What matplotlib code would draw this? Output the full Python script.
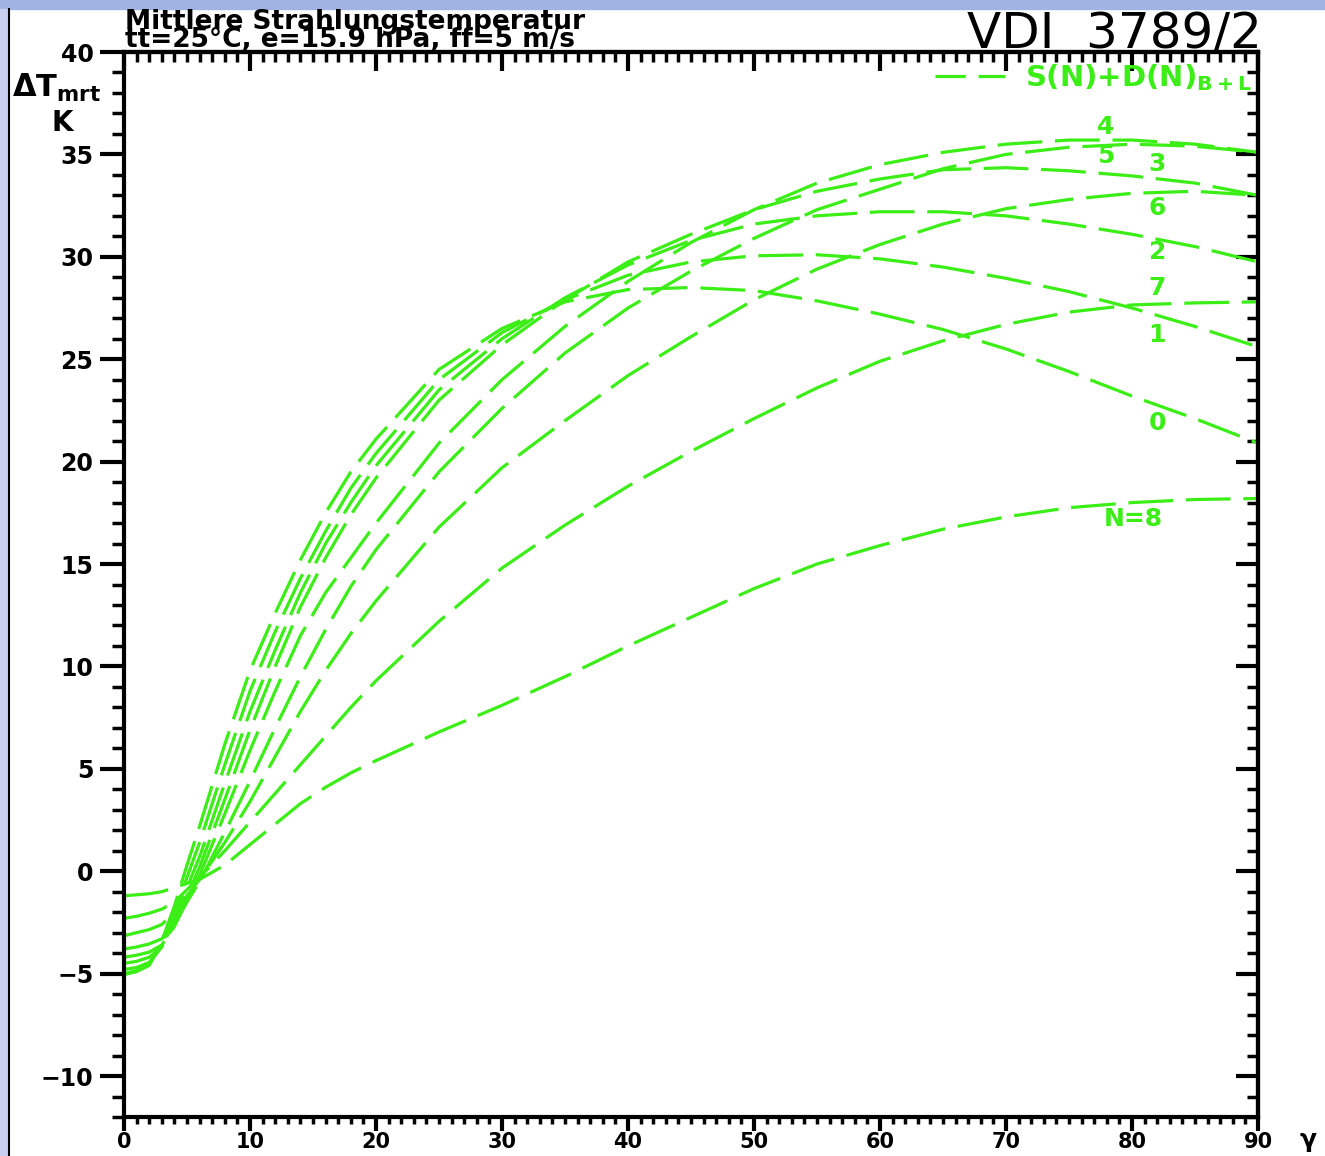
import matplotlib.pyplot as plt
from matplotlib.lines import Line2D
from matplotlib.patches import Rectangle
from matplotlib.ticker import MultipleLocator

GREEN = "#3aee16"

# ====== data ======
elev = [0, 1, 2, 3, 4, 5, 6, 8, 10, 12, 14, 16, 18, 20, 25, 30, 35, 40, 45,
        50, 55, 60, 65, 70, 75, 80, 85, 90]

dt_n0 = [-5.05, -4.9, -4.6, -3.4, -1.7, 0.3, 2.2, 6.2, 9.8, 12.6, 15.2, 17.5, 19.5, 21.1,
         24.5, 26.5, 27.8, 28.4, 28.5, 28.35, 27.85, 27.2, 26.45, 25.5, 24.4, 23.2, 22.1, 20.9]
dt_n1 = [-5.0, -4.85, -4.55, -3.6, -2.1, -0.3, 1.4, 5.2, 8.8, 11.7, 14.3, 16.6, 18.7, 20.4,
         24.0, 26.3, 27.9, 29.1, 29.75, 30.05, 30.1, 29.9, 29.5, 28.95, 28.3, 27.5, 26.6, 25.6]
dt_n2 = [-4.8, -4.7, -4.45, -3.7, -2.4, -0.8, 0.7, 4.3, 7.8, 10.8, 13.6, 16.0, 18.0, 19.8,
         23.5, 26.0, 28.0, 29.6, 30.8, 31.6, 32.0, 32.2, 32.2, 32.0, 31.6, 31.1, 30.5, 29.75]
dt_n3 = [-4.5, -4.4, -4.2, -3.7, -2.6, -1.2, 0.2, 3.5, 6.9, 10.0, 12.9, 15.3, 17.4, 19.2,
         23.0, 25.7, 27.9, 29.75, 31.1, 32.3, 33.2, 33.8, 34.25, 34.35, 34.2, 33.95, 33.6, 33.0]
dt_n4 = [-4.2, -4.1, -3.95, -3.6, -2.7, -1.4, -0.2, 2.8, 5.9, 8.8, 11.5, 13.6, 15.3, 17.0,
         20.9, 24.0, 26.6, 28.8, 30.7, 32.3, 33.6, 34.5, 35.1, 35.5, 35.7, 35.7, 35.5, 35.1]
dt_n5 = [-3.8, -3.7, -3.55, -3.3, -2.6, -1.5, -0.5, 1.9, 4.4, 7.0, 9.5, 11.8, 13.9, 15.7,
         19.5, 22.6, 25.3, 27.5, 29.3, 30.9, 32.3, 33.3, 34.3, 35.0, 35.35, 35.5, 35.4, 35.1]
dt_n6 = [-3.15, -3.0, -2.85, -2.6, -2.0, -1.2, -0.4, 1.4, 3.4, 5.6, 7.8, 9.8, 11.6, 13.2,
         16.8, 19.7, 22.0, 24.2, 26.1, 27.9, 29.4, 30.6, 31.6, 32.35, 32.8, 33.1, 33.2, 33.0]
dt_n7 = [-2.3, -2.2, -2.05, -1.85, -1.5, -0.9, -0.3, 1.0, 2.4, 3.8, 5.2, 6.6, 8.0, 9.3,
         12.2, 14.8, 16.9, 18.8, 20.5, 22.1, 23.6, 24.9, 25.9, 26.7, 27.3, 27.65, 27.75, 27.8]
dt_n8 = [-1.2, -1.15, -1.1, -1.0, -0.8, -0.6, -0.4, 0.3, 1.3, 2.3, 3.3, 4.1, 4.8, 5.4,
         6.8, 8.1, 9.5, 11.0, 12.4, 13.8, 15.0, 15.9, 16.7, 17.3, 17.75, 18.0, 18.15, 18.2]

curves = [dt_n0, dt_n1, dt_n2, dt_n3, dt_n4, dt_n5, dt_n6, dt_n7, dt_n8]
curve_names = ["0", "1", "2", "3", "4", "5", "6", "7", "N=8"]
# where the curve names sit (data coords)
name_x = [82.0, 82.0, 82.0, 82.0, 77.9, 77.9, 82.0, 82.0, 80.1]
name_y = [21.9, 26.2, 30.25, 34.55, 36.35, 34.9, 32.4, 28.5, 17.2]
# =====================================

fig = plt.figure(figsize=(13.25, 11.56), dpi=100)
W, H = 1325, 1156

# frame of the old screen shot
fig.patches.append(Rectangle((0, 1 - 9 / H), 1, 9 / H, transform=fig.transFigure,
                             color="#9fb4e2", zorder=0))
fig.patches.append(Rectangle((0, 0), 8 / W, 1 - 9 / H, transform=fig.transFigure,
                             color="#c8cff1", zorder=0))
fig.lines.append(Line2D([9 / W, 9 / W], [0, 1 - 9 / H], transform=fig.transFigure,
                        color="black", lw=1.5))

ax = fig.add_axes([124 / W, 1 - 1117 / H, (1258 - 124) / W, (1117 - 52) / H])

for vals in curves:
    ax.plot(elev, vals, color=GREEN, lw=2.3, dashes=(14, 4), solid_capstyle="butt")

for name, x, y in zip(curve_names, name_x, name_y):
    ax.text(x, y, name, color=GREEN, fontsize=18, fontweight="bold",
            ha="center", va="center")

ax.set_xlim(0, 90)
ax.set_ylim(-12, 40)

for sp in ax.spines.values():
    sp.set_linewidth(3)

ax.xaxis.set_major_locator(MultipleLocator(10))
ax.xaxis.set_minor_locator(MultipleLocator(1))
ax.yaxis.set_major_locator(MultipleLocator(5))
ax.yaxis.set_minor_locator(MultipleLocator(1))
ax.tick_params(axis="x", which="major", direction="out", length=10, width=3, pad=1,
               labelsize=15)
ax.tick_params(axis="x", which="minor", direction="out", length=5, width=2.5)
ax.tick_params(axis="y", which="major", direction="out", length=17, width=3, pad=5,
               labelsize=17)
ax.tick_params(axis="y", which="minor", direction="out", length=9, width=2.5)
for lab in ax.get_xticklabels() + ax.get_yticklabels():
    lab.set_fontweight("bold")

top = ax.secondary_xaxis("top")
top.xaxis.set_major_locator(MultipleLocator(10))
top.xaxis.set_minor_locator(MultipleLocator(1))
top.tick_params(which="major", direction="in", length=14, width=3, labeltop=False)
top.tick_params(which="minor", direction="in", length=7, width=2.5)
top.spines["top"].set_linewidth(3)

right = ax.secondary_yaxis("right")
right.yaxis.set_major_locator(MultipleLocator(5))
right.yaxis.set_minor_locator(MultipleLocator(1))
right.tick_params(which="major", direction="in", length=16, width=3, labelright=False)
right.tick_params(which="minor", direction="in", length=8, width=2.5)
right.spines["right"].set_linewidth(3)

# legend in the upper right corner
handle = Line2D([], [], color=GREEN, lw=2.3, dashes=(9.5, 4))
ax.legend([handle], [r"S(N)+D(N)$_{\mathbf{B+L}}$"], loc="center right",
          bbox_to_anchor=(1.0, 1 - 26 / 1065), frameon=False, borderpad=0,
          borderaxespad=0.2, handlelength=2.4, handletextpad=0.7,
          prop={"size": 21, "weight": "bold"}, labelcolor=GREEN)

# texts around the frame
fig.text(125 / W, 1 - 47 / H,
         "Mittlere Strahlungstemperatur\ntt=25°C, e=15.9 hPa, ff=5 m/s",
         fontsize=19, fontweight="bold", va="baseline", linespacing=0.62)
fig.text(1262 / W, 1 - 48 / H, "VDI  3789/2", fontsize=36, ha="right", va="baseline")
fig.text(12 / W, 1 - 97 / H, r"ΔT$_{\mathbf{mrt}}$", fontsize=22, fontweight="bold",
         va="baseline")
fig.text(62 / W, 1 - 123 / H, "K", fontsize=20, fontweight="bold", ha="center",
         va="center")
fig.text(1308 / W, 1 - 1140 / H, "γ", fontsize=18, fontweight="bold", ha="center",
         va="center")

fig.savefig("out.png", dpi=100)
